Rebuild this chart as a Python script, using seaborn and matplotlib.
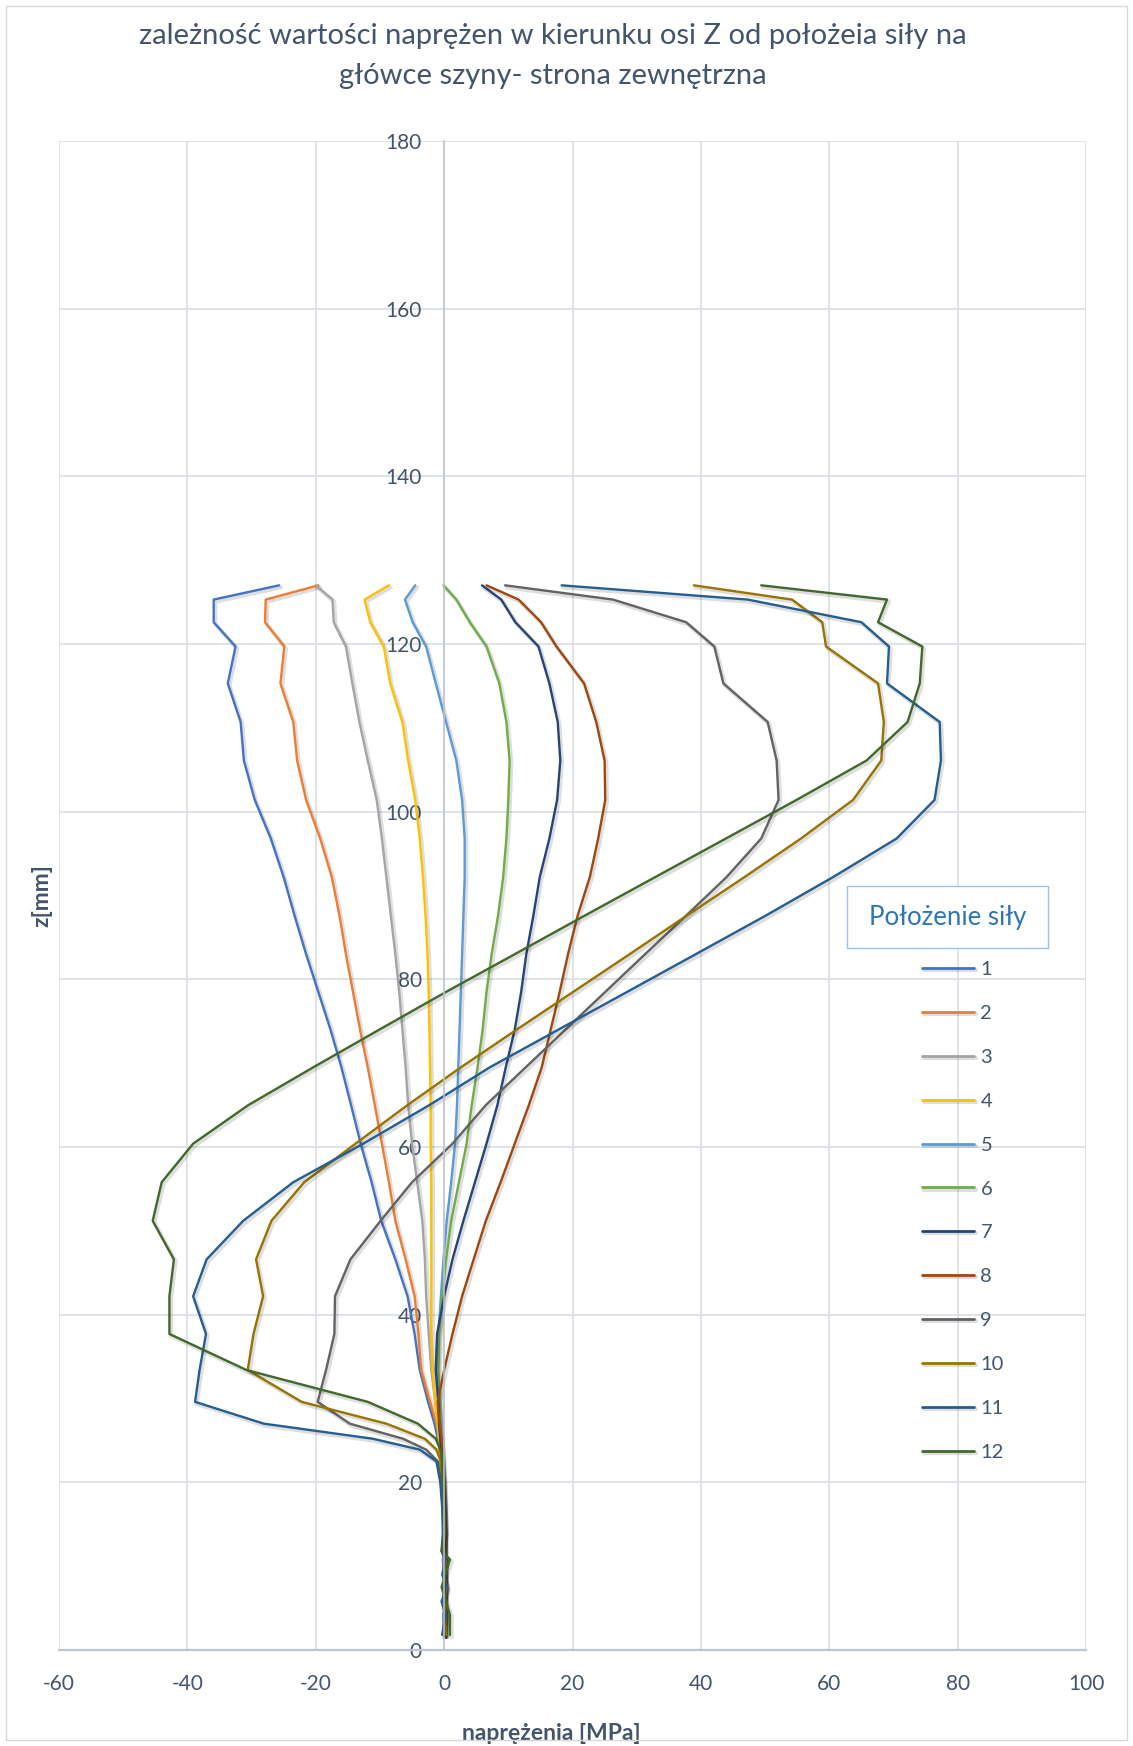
import matplotlib
matplotlib.use("Agg")
import matplotlib.pyplot as plt
import matplotlib.patheffects as pe
from matplotlib.patches import Rectangle
import pandas as pd
import seaborn as sns

# ---------------- data ----------------
z_mm = [127.0, 125.3, 122.6, 119.7, 115.3, 110.7, 106.1, 101.4, 96.8, 92.2,
        87.6, 83.0, 78.5, 74.0, 69.5, 65.0, 60.4, 55.8, 51.2, 46.6,
        42.2, 37.7, 33.4, 29.6, 27.0, 25.2, 23.9, 22.5, 20.0, 17.0,
        14.0, 11.8, 10.8, 9.0, 7.5, 5.8, 4.2, 1.8]

s1 = [-25.7, -35.9, -35.9, -32.5, -33.7, -31.7, -31.2, -29.5, -27.0, -25.0,
      -23.3, -21.5, -19.6, -17.7, -16.0, -14.5, -13.0, -11.3, -9.8, -7.6,
      -5.7, -4.6, -3.8, -2.5, -1.5, -1.0, -0.7, -0.5, -0.3, -0.2,
      -0.1, 0.1, -0.2, 0.0, 0.2, -0.1, 0.1, 0.0]
s2 = [-19.6, -27.8, -27.9, -24.9, -25.5, -23.5, -22.9, -21.5, -19.3, -17.5,
      -16.3, -15.3, -14.2, -13.1, -11.9, -10.8, -9.7, -8.6, -7.6, -6.0,
      -4.6, -4.0, -3.6, -2.2, -1.2, -0.8, -0.6, -0.5, -0.3, -0.1,
      0.0, 0.1, -0.1, 0.1, 0.1, 0.0, 0.2, 0.1]
s3 = [-20.0, -17.4, -17.2, -15.3, -14.3, -13.2, -11.9, -10.5, -9.7, -9.0,
      -8.3, -7.6, -7.0, -6.5, -6.0, -5.6, -5.0, -4.2, -3.4, -3.0,
      -2.8, -2.4, -2.0, -1.4, -1.0, -0.8, -0.7, -0.6, -0.3, -0.2,
      0.0, -0.1, 0.1, 0.0, 0.2, 0.0, 0.1, 0.0]
s4 = [-8.6, -12.4, -11.5, -9.4, -8.4, -6.5, -5.6, -4.5, -3.8, -3.3,
      -2.9, -2.6, -2.4, -2.3, -2.2, -2.1, -2.1, -2.0, -2.0, -2.0,
      -2.0, -2.0, -1.8, -1.4, -1.0, -0.8, -0.7, -0.6, -0.4, -0.2,
      -0.1, 0.0, 0.1, -0.1, 0.1, 0.1, 0.0, 0.1]
s5 = [-4.5, -6.1, -4.9, -2.8, -1.3, 0.3, 1.9, 2.8, 3.2, 3.2,
      3.0, 2.8, 2.6, 2.4, 2.2, 2.0, 1.7, 1.1, 0.4, -0.1,
      -0.5, -0.9, -1.1, -0.9, -0.7, -0.6, -0.5, -0.4, -0.2, -0.1,
      0.0, 0.1, 0.0, 0.1, -0.1, 0.1, 0.0, -0.1]
s6 = [-0.1, 1.9, 4.0, 6.6, 8.6, 9.7, 10.2, 10.0, 9.7, 9.2,
      8.4, 7.4, 6.6, 6.0, 5.2, 4.3, 3.5, 2.3, 1.1, 0.3,
      -0.3, -0.8, -0.9, -0.7, -0.6, -0.5, -0.4, -0.3, -0.2, 0.0,
      0.1, 0.0, 0.2, 0.0, 0.1, -0.1, 0.2, 0.1]
s7 = [5.9, 8.9, 11.1, 14.7, 16.4, 17.7, 18.1, 17.6, 16.4, 14.9,
      13.9, 12.8, 12.0, 11.0, 9.6, 8.3, 6.6, 4.8, 3.0, 1.3,
      0.0, -1.1, -1.3, -0.9, -0.8, -0.6, -0.4, -0.3, -0.1, 0.0,
      0.1, -0.1, 0.1, 0.2, 0.0, 0.1, -0.1, 0.0]
s8 = [6.6, 11.6, 15.1, 17.5, 21.8, 23.7, 25.0, 25.1, 24.0, 22.7,
      20.8, 19.3, 18.0, 16.6, 15.2, 13.2, 11.0, 8.8, 6.5, 4.6,
      2.8, 1.3, 0.0, -1.0, -0.7, -0.4, -0.3, -0.2, 0.0, 0.1,
      0.2, 0.0, 0.2, 0.1, 0.3, 0.0, 0.2, 0.1]
s9 = [9.5, 26.3, 37.7, 42.1, 43.5, 50.4, 51.8, 52.1, 49.4, 44.0,
      37.7, 31.3, 25.1, 18.9, 12.7, 6.5, 1.3, -5.0, -9.9, -14.6,
      -17.0, -17.1, -18.4, -19.7, -14.7, -6.4, -2.8, -1.0, -0.5, -0.2,
      0.0, -0.2, 0.2, -0.1, 0.1, -0.2, 0.1, -0.1]
s10 = [38.9, 54.2, 58.9, 59.5, 67.6, 68.5, 68.1, 63.7, 55.6, 46.8,
       37.8, 28.9, 20.1, 11.3, 2.6, -5.7, -13.8, -21.8, -26.9, -29.3,
       -28.2, -29.7, -30.6, -22.2, -9.0, -3.0, -1.2, -0.5, -0.2, 0.0,
       0.1, -0.1, 0.3, 0.0, 0.4, 0.1, 0.2, 0.3]
s11 = [18.3, 47.3, 65.0, 69.3, 69.0, 77.2, 77.4, 76.4, 70.5, 60.6,
       50.1, 39.2, 28.5, 17.8, 7.1, -2.3, -12.6, -23.5, -31.3, -37.0,
       -39.1, -37.1, -38.1, -38.8, -28.1, -11.1, -3.8, -1.2, -0.6, -0.3,
       -0.2, -0.4, 0.2, -0.3, 0.4, -0.4, 0.2, -0.3]
s12 = [49.4, 69.0, 67.6, 74.5, 74.1, 72.2, 65.8, 54.9, 43.9, 32.9,
       21.9, 11.0, 0.3, -10.1, -20.4, -30.5, -39.1, -44.0, -45.4, -42.1,
       -42.8, -42.8, -30.8, -11.9, -4.1, -1.3, -0.6, -0.3, -0.2, 0.0,
       0.1, -0.4, 0.9, 0.2, -0.4, 0.3, 0.9, 0.9]

series_names = ["1", "2", "3", "4", "5", "6", "7", "8", "9", "10", "11", "12"]
series_values = [s1, s2, s3, s4, s5, s6, s7, s8, s9, s10, s11, s12]
series_colors = ["#4472C4", "#ED7D31", "#A5A5A5", "#FFC000", "#5B9BD5", "#70AD47",
                 "#264478", "#9E480E", "#636363", "#997300", "#255E91", "#43682B"]

x_ticks = [-60, -40, -20, 0, 20, 40, 60, 80, 100]
y_ticks = [0, 20, 40, 60, 80, 100, 120, 140, 160, 180]

title_1 = "zależność wartości naprężen w kierunku osi Z od położeia siły na"
title_2 = "główce szyny- strona zewnętrzna"
x_title = "naprężenia [MPa]"
y_title = "z[mm]"
legend_title = "Położenie siły"

# ---------------- styling ----------------
sns.set_theme(style="white")
plt.rcParams["font.family"] = ["Lato", "DejaVu Sans"]
plt.rcParams["axes.unicode_minus"] = False

TXT = "#44546A"
GRID = "#DADFE6"
AXIS = "#BFC5CE"

W, H = 1133, 1746
fig = plt.figure(figsize=(W / 100, H / 100), dpi=100)
fig.patch.set_facecolor("white")
fig.add_artist(Rectangle((6 / W, 6 / H), (W - 12) / W, (H - 12) / H,
                         transform=fig.transFigure, fill=False,
                         edgecolor="#D9D9D9", linewidth=1.0))

L, R, T, B = 59, 1086, 141, 1650
ax = fig.add_axes([L / W, 1 - B / H, (R - L) / W, (B - T) / H])

rows = []
for name, vals in zip(series_names, series_values):
    for zz, vv in zip(z_mm, vals):
        rows.append({"naprezenia": vv, "z": zz, "seria": name})
df = pd.DataFrame(rows)

sns.lineplot(data=df, x="naprezenia", y="z", hue="seria", hue_order=series_names,
             palette=series_colors, sort=False, estimator=None, linewidth=1.7, ax=ax)

for ln in ax.lines:
    ln.set_path_effects([pe.SimpleLineShadow(offset=(1.2, -1.5), shadow_color="black",
                                             alpha=0.13, linewidth=3.0),
                         pe.Normal()])

ax.set_xlim(-60, 100)
ax.set_ylim(0, 180)
ax.set_xticks(x_ticks)
ax.set_yticks(y_ticks)
ax.set_xticklabels([str(v) for v in x_ticks])
ax.set_yticklabels([str(v) for v in y_ticks])
ax.grid(True, color=GRID, linewidth=1.2)
ax.set_axisbelow(True)

for s in ["top", "right"]:
    ax.spines[s].set_visible(False)
ax.spines["left"].set_position(("data", 0))
ax.spines["left"].set_color(AXIS)
ax.spines["left"].set_linewidth(1.1)
ax.spines["bottom"].set_color(AXIS)
ax.spines["bottom"].set_linewidth(1.6)
ax.tick_params(axis="x", length=0, pad=17, labelsize=15, labelcolor=TXT)
ax.tick_params(axis="y", length=0, pad=16, labelsize=15, labelcolor=TXT)

ax.set_xlabel(x_title, fontsize=16.5, fontweight="bold", color=TXT)
ax.set_ylabel(y_title, fontsize=16.5, fontweight="bold", color=TXT)
ax.xaxis.set_label_coords((551 - L) / (R - L), (B - 1723) / (B - T))
ax.yaxis.set_label_coords((52 - L) / (R - L), 0.5)

fig.text(553 / W, 1 - 36 / H, title_1, ha="center", va="center", fontsize=21, color=TXT)
fig.text(553 / W, 1 - 76 / H, title_2, ha="center", va="center", fontsize=21, color=TXT)

# legend
handles, labels = ax.get_legend_handles_labels()
if ax.get_legend() is not None:
    ax.get_legend().remove()
for h in handles:
    h.set_linewidth(2.0)
fig.legend(handles, labels, loc="upper left", bbox_to_anchor=(922 / W, 1 - 961 / H),
           frameon=False, fontsize=14.5, handlelength=2.6, handletextpad=0.3,
           labelspacing=1.33, borderpad=0, borderaxespad=0, labelcolor=TXT)

fig.add_artist(Rectangle((847 / W, 1 - 948 / H), 201 / W, 62 / H,
                         transform=fig.transFigure, facecolor="white",
                         edgecolor="#9DC3E6", linewidth=1.0, zorder=5))
fig.text(947.5 / W, 1 - 917 / H, legend_title, ha="center", va="center",
         fontsize=18.5, color="#2E75B6", zorder=6)

fig.savefig("out.png", dpi=100, facecolor="white")
